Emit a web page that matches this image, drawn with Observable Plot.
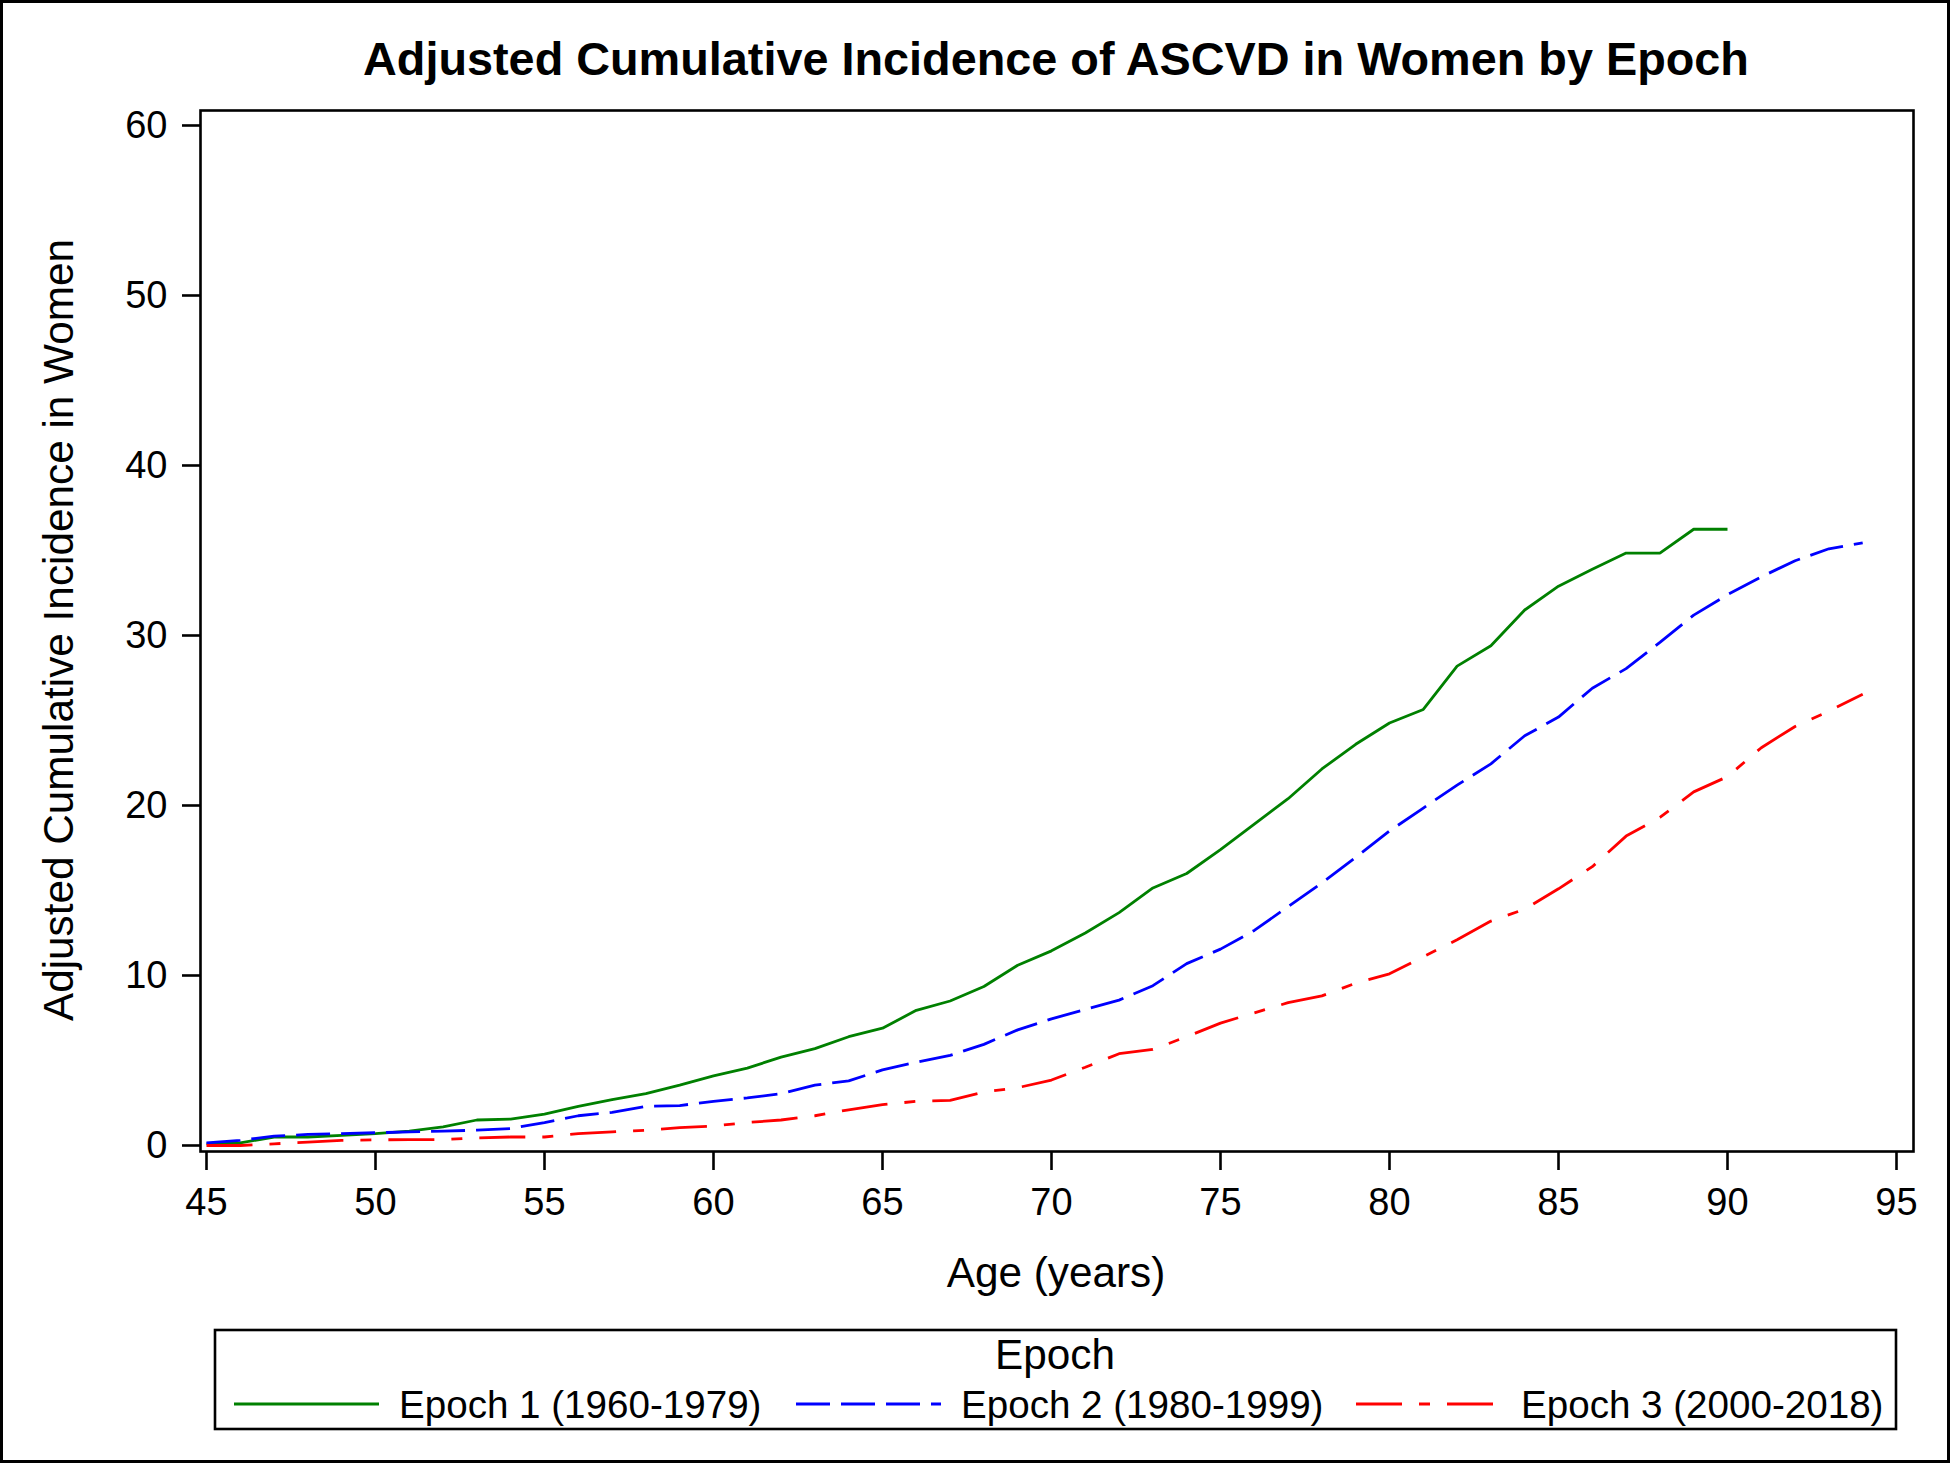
<!DOCTYPE html>
<html><head><meta charset="utf-8">
<script src="https://cdn.jsdelivr.net/npm/d3@7"></script>
<script src="https://cdn.jsdelivr.net/npm/@observablehq/plot@0.6"></script>
<style>
html,body{margin:0;padding:0;background:#fff;}
#fig{position:relative;width:1950px;height:1463px;background:#fff;font-family:"Liberation Sans",Arial,sans-serif;overflow:hidden;}
#plot{position:absolute;left:0;top:0;}
#overlay{position:absolute;left:0;top:0;pointer-events:none;}
#border{position:absolute;left:0;top:0;width:1950px;height:1463px;box-sizing:border-box;border:3px solid #000;pointer-events:none;}
</style></head><body>
<div id="fig"><div id="plot"></div><svg id="overlay" width="1950" height="1463"></svg><div id="border"></div></div>
<script>
const titleText = "Adjusted Cumulative Incidence of ASCVD in Women by Epoch";
const xLabel = "Age (years)";
const yLabel = "Adjusted Cumulative Incidence in Women";
const legendTitle = "Epoch";
const seriesNames = ["Epoch 1 (1960-1979)", "Epoch 2 (1980-1999)", "Epoch 3 (2000-2018)"];
const seriesColors = ["#008000", "#0000ff", "#ff0000"];
const seriesDash = [null, "34,11", "46,17,11,17"];

const xTicks = [45, 50, 55, 60, 65, 70, 75, 80, 85, 90, 95];
const yTicks = [0, 10, 20, 30, 40, 50, 60];

const ages1 = [45,46,47,48,49,50,51,52,53,54,55,56,57,58,59,60,61,62,63,64,65,66,67,68,69,70,71,72,73,74,75,76,77,78,79,80,81,82,83,84,85,86,87,88,89,90];
const epoch1 = [0.1,0.15,0.5,0.5,0.6,0.7,0.85,1.1,1.5,1.55,1.85,2.3,2.7,3.05,3.55,4.1,4.55,5.2,5.7,6.4,6.9,7.95,8.5,9.35,10.6,11.45,12.5,13.7,15.15,16.0,17.4,18.9,20.4,22.15,23.6,24.85,25.65,28.2,29.4,31.5,32.9,33.9,34.85,34.85,36.25,36.25];

const ages2 = [45,46,47,48,49,50,51,52,53,54,55,56,57,58,59,60,61,62,63,64,65,66,67,68,69,70,71,72,73,74,75,76,77,78,79,80,81,82,83,84,85,86,87,88,89,90,91,92,93,94];
const epoch2 = [0.15,0.3,0.55,0.65,0.7,0.75,0.8,0.85,0.9,1.0,1.35,1.75,1.95,2.3,2.35,2.6,2.8,3.05,3.55,3.8,4.45,4.9,5.3,5.95,6.8,7.45,8.0,8.55,9.4,10.7,11.55,12.65,14.05,15.45,16.95,18.5,19.85,21.2,22.45,24.1,25.2,26.9,28.05,29.6,31.2,32.4,33.45,34.4,35.1,35.45];

const ages3 = [45,46,47,48,49,50,51,52,53,54,55,56,57,58,59,60,61,62,63,64,65,66,67,68,69,70,71,72,73,74,75,76,77,78,79,80,81,82,83,84,85,86,87,88,89,90,91,92,93,94];
const epoch3 = [0.0,0.0,0.1,0.2,0.3,0.33,0.35,0.35,0.45,0.5,0.5,0.7,0.8,0.9,1.05,1.15,1.35,1.5,1.75,2.1,2.4,2.6,2.65,3.15,3.4,3.85,4.6,5.4,5.65,6.4,7.2,7.8,8.4,8.8,9.55,10.1,11.1,12.1,13.2,13.9,15.1,16.4,18.2,19.3,20.8,21.7,23.4,24.65,25.55,26.55];

const rows = (ages, vals) => ages.map((a, i) => ({age: a, value: vals[i]}));
const series = [rows(ages1, epoch1), rows(ages2, epoch2), rows(ages3, epoch3)];

const chart = Plot.plot({
  width: 1950,
  height: 1300,
  marginLeft: 200,
  marginRight: 37,
  marginTop: 110,
  marginBottom: 149,
  style: {fontFamily: '"Liberation Sans", Arial, sans-serif', fontSize: "38px", color: "#000", background: "transparent", overflow: "visible"},
  x: {domain: [44.8225, 95.503], label: null},
  y: {domain: [-0.353, 60.882], label: null},
  marks: [
    ...series.map((d, i) => Plot.line(d, {x: "age", y: "value", stroke: seriesColors[i], strokeWidth: 2.8, strokeDasharray: seriesDash[i] || undefined, strokeLinejoin: "miter", strokeLinecap: "butt"})),
    Plot.frame({stroke: "#000", strokeWidth: 2.6}),
    Plot.axisX({ticks: xTicks, tickSize: 19, tickPadding: 18, strokeWidth: 2.6, label: null, tickFormat: d => String(d)}),
    Plot.axisY({ticks: yTicks, tickSize: 18, tickPadding: 15, strokeWidth: 2.6, label: null, tickFormat: d => String(d)})
  ]
});
document.getElementById("plot").appendChild(chart);

const ov = d3.select("#overlay");
const font = '"Liberation Sans", Arial, sans-serif';
ov.append("text").attr("x", 1056).attr("y", 75).attr("text-anchor", "middle")
  .style("font-family", font).style("font-weight", "bold").style("font-size", "46.8px").text(titleText);
ov.append("text").attr("x", 1056).attr("y", 1287).attr("text-anchor", "middle")
  .style("font-family", font).style("font-size", "42.3px").text(xLabel);
ov.append("text").attr("transform", "translate(73,630) rotate(-90)").attr("text-anchor", "middle")
  .style("font-family", font).style("font-size", "42.3px").text(yLabel);

// legend
ov.append("rect").attr("x", 215).attr("y", 1330).attr("width", 1681).attr("height", 99)
  .attr("fill", "none").attr("stroke", "#000").attr("stroke-width", 2.6);
ov.append("text").attr("x", 1055).attr("y", 1369).attr("text-anchor", "middle")
  .style("font-family", font).style("font-size", "42.3px").text(legendTitle);
const sampleX = [234, 796, 1356];
seriesNames.forEach((name, i) => {
  const l = ov.append("line").attr("x1", sampleX[i]).attr("x2", sampleX[i] + 145)
    .attr("y1", 1404).attr("y2", 1404).attr("stroke", seriesColors[i]).attr("stroke-width", 2.8);
  if (seriesDash[i]) l.attr("stroke-dasharray", seriesDash[i]);
  ov.append("text").attr("x", sampleX[i] + 165).attr("y", 1418)
    .style("font-family", font).style("font-size", "38.6px").text(name);
});
</script>
</body></html>
